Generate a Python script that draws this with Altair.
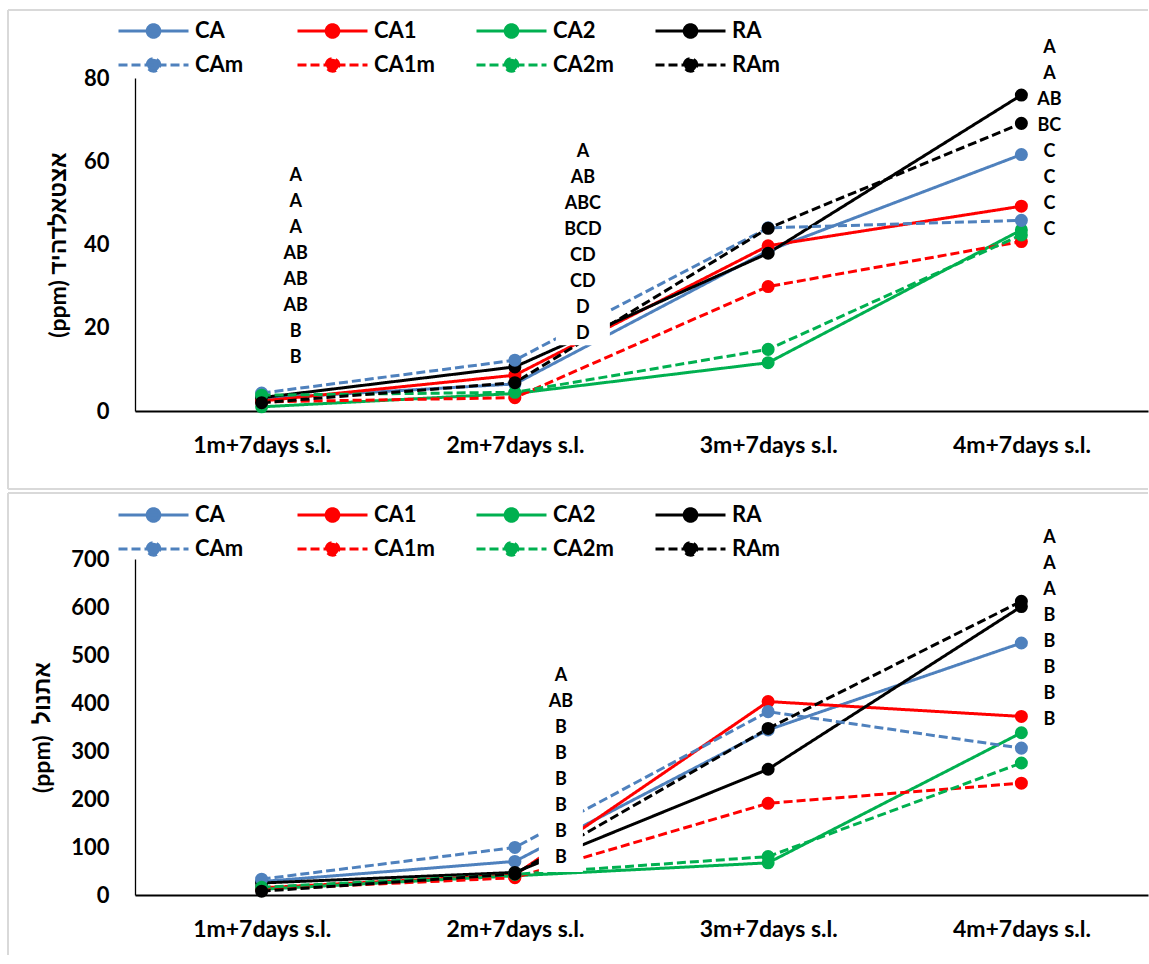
import altair as alt
import pandas as pd

# ---- categories and series -------------------------------------------------
categories = ["1m+7days s.l.", "2m+7days s.l.", "3m+7days s.l.", "4m+7days s.l."]
series_names = ["CA", "CA1", "CA2", "RA", "CAm", "CA1m", "CA2m", "RAm"]
series_colors = ["#4F81BD", "#FF0000", "#00B050", "#000000",
                 "#4F81BD", "#FF0000", "#00B050", "#000000"]
series_dashes = [[1, 0], [1, 0], [1, 0], [1, 0],
                 [9, 4], [9, 4], [9, 4], [9, 4]]

# ---- acetaldehyde (ppm) ----------------------------------------------------
acet_ca = [3.0, 6.5, 38.5, 61.6]
acet_ca1 = [2.4, 8.6, 39.7, 49.2]
acet_ca2 = [1.0, 4.2, 11.6, 43.5]
acet_ra = [3.2, 10.6, 37.9, 75.9]
acet_cam = [4.3, 12.2, 44.0, 45.8]
acet_ca1m = [2.2, 3.2, 29.9, 40.7]
acet_ca2m = [3.8, 4.5, 14.8, 42.3]
acet_ram = [2.0, 6.8, 43.9, 69.1]

# ---- ethanol (ppm) ---------------------------------------------------------
eth_ca = [28, 70, 344, 525]
eth_ca1 = [15, 42, 403, 372]
eth_ca2 = [12, 40, 67, 338]
eth_ra = [25, 47, 262, 601]
eth_cam = [33, 99, 382, 306]
eth_ca1m = [12, 36, 191, 233]
eth_ca2m = [16, 43, 80, 275]
eth_ram = [8, 44, 347, 612]

# ---- significance letters (top to bottom) ---------------------------------
acet_letters_1m = ["A", "A", "A", "AB", "AB", "AB", "B", "B"]
acet_letters_2m = ["A", "AB", "ABC", "BCD", "CD", "CD", "D", "D"]
acet_letters_4m = ["A", "A", "AB", "BC", "C", "C", "C", "C"]
eth_letters_2m = ["A", "AB", "B", "B", "B", "B", "B", "B"]
eth_letters_4m = ["A", "A", "A", "B", "B", "B", "B", "B"]

FONT = "Lato"
TITLE_FONT = "Lato, 'Liberation Sans'"
PLOT_W = 1013
LINE_H = 26

# line with a filled dot in the middle, in the unit square of a legend symbol
SYMBOL_PATH = "M-1,0L1,0M-0.18,0A0.18,0.18,0,1,1,0.18,0A0.18,0.18,0,1,1,-0.18,0Z"


def make_legend(legend_y):
    return alt.Legend(
        orient="none", legendX=-18, legendY=legend_y,
        direction="horizontal", columns=4, gridAlign="all",
        title=None, padding=0,
        symbolType=SYMBOL_PATH, symbolSize=4900, symbolStrokeWidth=3,
        symbolOpacity=1,
        labelFont=FONT, labelFontSize=22, labelFontWeight="bold",
        labelColor="black", labelOffset=5,
        columnPadding=39, rowPadding=0, clipHeight=34,
    )


def build_panel(values, y_max, y_step, height, y_title, title_x, legend_y,
                notes, border_top, border_bottom, draw_bottom_border):
    rows = []
    for name, vals in zip(series_names, values):
        for period, v in zip(categories, vals):
            rows.append({"period": period, "series": name, "ppm": v})
    df = pd.DataFrame(rows)

    x_enc = alt.X(
        "period:N", sort=categories,
        scale=alt.Scale(type="point", padding=0.5, domain=categories),
        axis=alt.Axis(
            title=None, labelAngle=0, ticks=False, tickSize=0, grid=False,
            labelFont=FONT, labelFontSize=23, labelFontWeight="bold",
            labelColor="black", labelPadding=23,
            domainColor="black", domainWidth=2,
        ),
    )
    y_enc = alt.Y(
        "ppm:Q",
        scale=alt.Scale(domain=[0, y_max], nice=False, zero=True),
        axis=alt.Axis(
            values=list(range(0, y_max + 1, y_step)),
            ticks=False, tickSize=0, grid=False,
            labelFont=FONT, labelFontSize=22, labelFontWeight="bold",
            labelColor="black", labelPadding=26,
            domainColor="black", domainWidth=1.3,
            title=y_title, titleFont=TITLE_FONT, titleFontSize=23,
            titleFontWeight="bold", titleColor="black",
            titleAngle=270, titleAlign="center", titleBaseline="middle",
            titleX=title_x, titleY=height / 2,
        ),
    )
    legend = make_legend(legend_y)

    lines = alt.Chart(df).mark_line(strokeWidth=3).encode(
        x=x_enc, y=y_enc,
        color=alt.Color("series:N",
                        scale=alt.Scale(domain=series_names, range=series_colors),
                        legend=legend),
        strokeDash=alt.StrokeDash(
            "series:N", scale=alt.Scale(domain=series_names, range=series_dashes),
            legend=legend),
    )
    points = alt.Chart(df).mark_point(filled=True, opacity=1, size=170).encode(
        x=x_enc, y=y_enc,
        fill=alt.Fill("series:N",
                      scale=alt.Scale(domain=series_names, range=series_colors),
                      legend=legend),
    )

    layers = [lines, points]

    # white text boxes behind the letter stacks, then the letters
    for period, dx, first_baseline, letters, box in notes:
        ndf = pd.DataFrame({"period": [period], "ppm": [first_baseline],
                            "txt": ["\n".join(letters)]})
        if box is not None:
            box_top, box_bottom, box_w = box
            bdf = pd.DataFrame({"period": [period], "ppm": [box_top],
                                "ppm_end": [box_bottom]})
            layers.append(
                alt.Chart(bdf).mark_rule(color="white", strokeWidth=box_w,
                                         xOffset=dx, strokeCap="butt").encode(
                    x="period:N", y="ppm:Q", y2="ppm_end:Q")
            )
        layers.append(
            alt.Chart(ndf).mark_text(
                dx=dx, align="center", baseline="alphabetic", lineBreak="\n",
                lineHeight=LINE_H, font=FONT, fontSize=18, fontWeight="bold",
                color="black",
            ).encode(x="period:N", y="ppm:Q", text="txt:N")
        )

    # chart-area frame
    one = pd.DataFrame({"k": [0]})
    frame_color = "#D9D9D9"
    layers.append(alt.Chart(one).mark_rule(color=frame_color, strokeWidth=2).encode(
        x=alt.value(-127), y=alt.value(border_top), y2=alt.value(border_bottom)))
    layers.append(alt.Chart(one).mark_rule(color=frame_color, strokeWidth=2).encode(
        x=alt.value(-127), x2=alt.value(PLOT_W), y=alt.value(border_top)))
    if draw_bottom_border:
        layers.append(alt.Chart(one).mark_rule(color=frame_color, strokeWidth=2).encode(
            x=alt.value(-127), x2=alt.value(PLOT_W), y=alt.value(border_bottom)))

    return alt.layer(*layers).properties(width=PLOT_W, height=height)


acet_values = [acet_ca, acet_ca1, acet_ca2, acet_ra,
               acet_cam, acet_ca1m, acet_ca2m, acet_ram]
eth_values = [eth_ca, eth_ca1, eth_ca2, eth_ra,
              eth_cam, eth_ca1m, eth_ca2m, eth_ram]

acet_notes = [
    (categories[0], 34, 55.2, acet_letters_1m, None),
    (categories[1], 68, 61.0, acet_letters_2m, (65.7, 15.8, 54)),
    (categories[3], 28, 85.9, acet_letters_4m, None),
]
eth_notes = [
    (categories[1], 46, 446.6, eth_letters_2m, (486, 48, 44)),
    (categories[3], 28, 733.5, eth_letters_4m, None),
]

top = build_panel(acet_values, 80, 20, 333, "(ppm) אצטאלדהיד", -77, -64,
                  acet_notes, -68, 411, True)
bottom = build_panel(eth_values, 700, 100, 336, "(ppm)\u00a0\u00a0אתנול", -93, -61,
                     eth_notes, -66, 396, False)

chart = alt.vconcat(top, bottom, spacing=2).resolve_scale(
    x="independent", y="independent", color="independent", fill="independent",
    strokeDash="independent",
).resolve_legend(color="independent", fill="independent",
                 strokeDash="independent").properties(
    padding={"left": 7, "top": 9, "right": 0, "bottom": 0},
).configure(font=FONT).configure_view(strokeWidth=0)

chart.save("out.html", embed_options={"renderer": "svg", "actions": False})
